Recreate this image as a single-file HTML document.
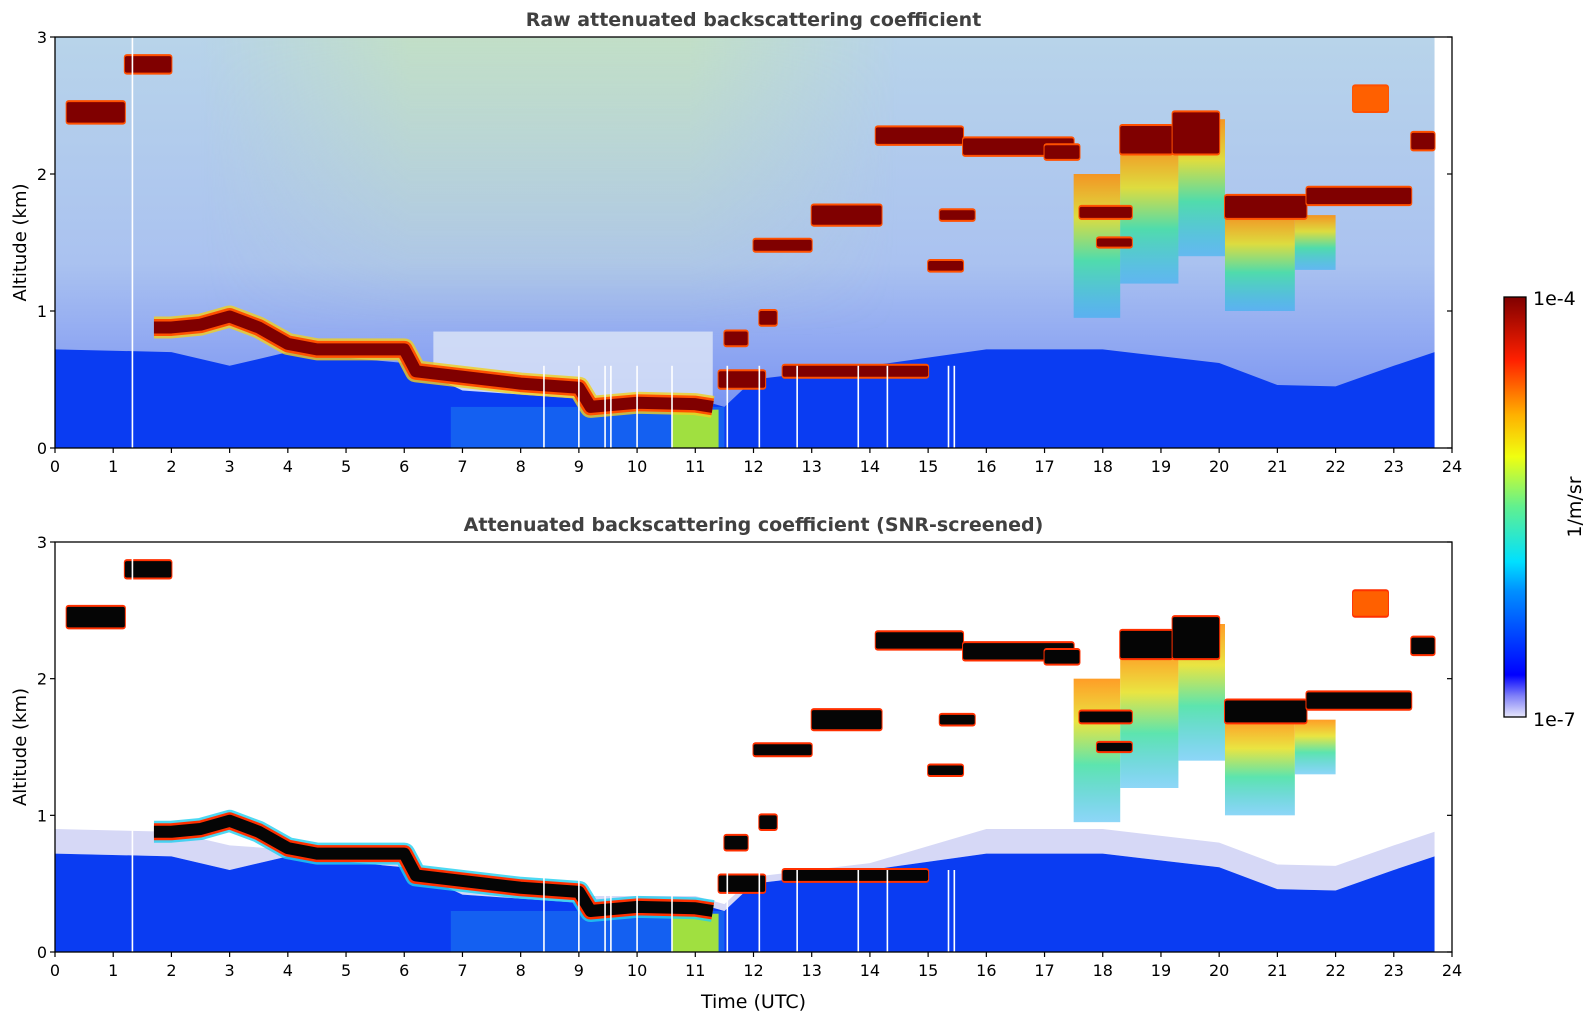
<!DOCTYPE html>
<html><head><meta charset="utf-8">
<style>
body{margin:0;background:#fff;}
svg{display:block;font-family:"DejaVu Sans","Liberation Sans",sans-serif;}
</style></head>
<body>
<svg id="fig" width="1595" height="1020" viewBox="0 0 1595 1020" xmlns="http://www.w3.org/2000/svg">
<defs>
<linearGradient id="skyTop" x1="0" y1="0" x2="0" y2="1">
<stop offset="0" stop-color="#b8d4ea"/><stop offset="0.55" stop-color="#aac2f0"/><stop offset="0.75" stop-color="#90a8f2"/><stop offset="1" stop-color="#6c88f2"/>
</linearGradient>
<linearGradient id="greenH" x1="0" y1="0" x2="1" y2="0">
<stop offset="0" stop-color="#c8e6b0" stop-opacity="0"/><stop offset="0.3" stop-color="#c8e6b0" stop-opacity="0.6"/><stop offset="0.7" stop-color="#c8e6b0" stop-opacity="0.6"/><stop offset="1" stop-color="#c8e6b0" stop-opacity="0"/>
</linearGradient>
<linearGradient id="fadeV" x1="0" y1="0" x2="0" y2="1">
<stop offset="0" stop-color="#fff"/><stop offset="0.5" stop-color="#fff" stop-opacity="0.5"/><stop offset="1" stop-color="#fff" stop-opacity="0"/>
</linearGradient>
<mask id="greenMask"><rect x="0" y="37" width="1595" height="300" fill="url(#fadeV)"/></mask>
<linearGradient id="precip" x1="0" y1="0" x2="0" y2="1">
<stop offset="0" stop-color="#ff8c00"/><stop offset="0.3" stop-color="#e6e020"/><stop offset="0.6" stop-color="#40e0a0"/><stop offset="1" stop-color="#20b0f0" stop-opacity="0.6"/>
</linearGradient>
<linearGradient id="cbar" x1="0" y1="1" x2="0" y2="0">
<stop offset="0" stop-color="#e6e6fa"/><stop offset="0.05" stop-color="#8080f8"/><stop offset="0.1" stop-color="#0000ff"/><stop offset="0.3" stop-color="#0090ff"/><stop offset="0.37" stop-color="#00e0ff"/><stop offset="0.5" stop-color="#60f090"/><stop offset="0.62" stop-color="#f0ff10"/><stop offset="0.72" stop-color="#ffb000"/><stop offset="0.85" stop-color="#ff2000"/><stop offset="1" stop-color="#800000"/>
</linearGradient>
<clipPath id="clipTop"><rect x="55" y="37" width="1397" height="411"/></clipPath>
<clipPath id="clipBot"><rect x="55" y="542" width="1397" height="410"/></clipPath>
</defs>
<g id="top" clip-path="url(#clipTop)"></g>
<g id="bot" clip-path="url(#clipBot)"></g>
<g id="axes"></g>
</svg>
<script>
// ---- data (hours UTC, km) ----
const blHours = [0, 2, 3, 4, 6, 7, 9, 11, 11.5, 12, 14, 16, 18, 20, 21, 22, 23, 23.7];
const blTops  = [0.72,0.7,0.6,0.7,0.62,0.42,0.36,0.36,0.3,0.5,0.6,0.72,0.72,0.62,0.46,0.45,0.6,0.7];
const mainHours = [1.7,2.0,2.5,3.0,3.5,4.0,4.5,5.0,6.0,6.2,7.0,8.0,9.0,9.2,10.0,11.0,11.3];
const mainAlt   = [0.88,0.88,0.9,0.96,0.88,0.76,0.72,0.72,0.72,0.56,0.52,0.47,0.44,0.3,0.33,0.32,0.3];
const cloudStart = [0.2,1.2,14.1,15.6,17.0,18.3,19.2,20.1,21.5,23.3,13.0,12.0,15.2,15.0,17.6,17.9,12.5,11.4,22.3,12.1,11.5];
const cloudEnd   = [1.2,2.0,15.6,17.5,17.6,19.2,20.0,21.5,23.3,23.7,14.2,13.0,15.8,15.6,18.5,18.5,15.0,12.2,22.9,12.4,11.9];
const cloudAlt   = [2.45,2.8,2.28,2.2,2.16,2.25,2.3,1.76,1.84,2.24,1.7,1.48,1.7,1.33,1.72,1.5,0.56,0.5,2.55,0.95,0.8];
const cloudThick = [0.15,0.12,0.12,0.12,0.1,0.2,0.3,0.16,0.12,0.12,0.14,0.08,0.07,0.07,0.08,0.06,0.08,0.12,0.18,0.1,0.1];
const streakStart = [17.5,18.3,19.3,20.1,21.3];
const streakEnd   = [18.3,19.3,20.1,21.3,22.0];
const streakTop   = [2.0,2.2,2.4,1.7,1.7];
const streakBot   = [0.95,1.2,1.4,1.0,1.3];
const gapHours = [1.33,8.4,9.0,9.45,9.55,10.0,10.6,11.55,12.1,12.75,13.8,14.3,15.35,15.45];
const xTicks = [0,1,2,3,4,5,6,7,8,9,10,11,12,13,14,15,16,17,18,19,20,21,22,23,24];
const yTicks = [0,1,2,3];

const NS="http://www.w3.org/2000/svg";
const L=55,R=1452;
const panels=[{top:37,bot:448,g:'top',name:'raw'},{top:542,bot:952,g:'bot',name:'screened'}];
const sx=h=>L+(R-L)*h/24;
function syF(p){return k=>p.bot-(p.bot-p.top)*k/3;}
function el(tag,attrs,parent){const e=document.createElementNS(NS,tag);for(const k in attrs)e.setAttribute(k,attrs[k]);parent.appendChild(e);return e;}

panels.forEach((p,pi)=>{
  const g=document.getElementById(p.g), sy=syF(p);
  const raw=pi===0;
  const bg=el('rect',{x:L,y:p.top,width:R-L,height:p.bot-p.top,fill:raw?'url(#skyTop)':'#ffffff'},g);
  
  
  if(raw){
    const gz=el('rect',{x:sx(2.5),y:sy(3),width:sx(14.5)-sx(2.5),height:sy(0.8)-sy(3),fill:'url(#greenH)',mask:'url(#greenMask)'},g);
    
    
    const wz=el('rect',{x:sx(6.5),y:sy(0.85),width:sx(11.3)-sx(6.5),height:sy(0.35)-sy(0.85),fill:'#dde6f6',opacity:0.8},g);
    
    
    const rz=el('rect',{x:sx(23.7),y:p.top,width:R-sx(23.7),height:p.bot-p.top,fill:'#ffffff'},g);
    
    
  } else {
    let d='M'+sx(blHours[0])+','+sy(blTops[0]+0.12);
    blHours.forEach((h,i)=>{d+=' L'+sx(h)+','+sy(blTops[i]+ (h>15.5||h<4?0.18:0.05));});
    for(let i=blHours.length-1;i>=0;i--)d+=' L'+sx(blHours[i])+','+sy(blTops[i]);
    const lb=el('path',{d:d+'Z',fill:'#d6d8f6'},g);
    
    
  }
  let d='M'+sx(0)+','+sy(0);
  blHours.forEach((h,i)=>{d+=' L'+sx(h)+','+sy(blTops[i]);});
  d+=' L'+sx(blHours[blHours.length-1])+','+sy(0)+'Z';
  const bl=el('path',{d:d,fill:'#0a3cf2'},g);
  
  
  const bl2=el('rect',{x:sx(6.8),y:sy(0.3),width:sx(11.5)-sx(6.8),height:sy(0)-sy(0.3),fill:'#1a78f0',opacity:0.6},g);
  
  
  const yp=el('rect',{x:sx(10.6),y:sy(0.28),width:sx(11.4)-sx(10.6),height:sy(0)-sy(0.28),fill:'#a0e040'},g);
  
  
  streakStart.forEach((s,i)=>{
    const r=el('rect',{x:sx(s),y:sy(streakTop[i]),width:sx(streakEnd[i])-sx(s),height:sy(streakBot[i])-sy(streakTop[i]),fill:'url(#precip)',opacity:0.85},g);
    
    
  });
  const core=raw?'#800000':'#050505', edge=raw?'#ff5000':'#ff3000';
  const pts=mainHours.map((h,i)=>sx(h)+','+sy(mainAlt[i])).join(' ');
  const m1=el('polyline',{points:pts,fill:'none',stroke:raw?'#f0d020':'#20d0f0','stroke-width':22,'stroke-linejoin':'round',opacity:0.8},g);
  
  
  const m2=el('polyline',{points:pts,fill:'none',stroke:edge,'stroke-width':17,'stroke-linejoin':'round'},g);
  
  
  const m3=el('polyline',{points:pts,fill:'none',stroke:core,'stroke-width':12,'stroke-linejoin':'round'},g);
  
  
  cloudStart.forEach((s,i)=>{
    const x=sx(s),w=sx(cloudEnd[i])-x,y=sy(cloudAlt[i]+cloudThick[i]/2),hh=sy(cloudAlt[i]-cloudThick[i]/2)-y;
    const e=el('rect',{x:x-1,y:y-2,width:w+2,height:hh+4,fill:edge,rx:3},g);
    
    
    const c=el('rect',{x:x,y:y,width:w,height:hh,fill:(i===18)?'#ff6000':core,rx:2},g);
    
    
  });
  gapHours.forEach(h=>{
    const ln=el('line',{x1:sx(h),x2:sx(h),y1:sy(0),y2:sy(h===1.33?3:0.6),stroke:'#ffffff','stroke-width':1.6},g);
    
    
  });
});

const ax=document.getElementById('axes');
const titles=['Raw attenuated backscattering coefficient','Attenuated backscattering coefficient (SNR-screened)'];
panels.forEach((p,pi)=>{
  const sy=syF(p);
  const fr=el('rect',{x:L,y:p.top,width:R-L,height:p.bot-p.top,fill:'none',stroke:'#000','stroke-width':1.3},ax);
  
  
  xTicks.forEach(t=>{
    const tk=el('line',{x1:sx(t),x2:sx(t),y1:p.bot,y2:p.bot+5,stroke:'#000','stroke-width':1.2},ax);
    
    
    const tx=el('text',{x:sx(t),y:p.bot+24,'font-size':16,'text-anchor':'middle',fill:'#000'},ax);
    tx.textContent=t;
    
    
  });
  yTicks.forEach(t=>{
    const tk=el('line',{x1:L-5,x2:L,y1:sy(t),y2:sy(t),stroke:'#000','stroke-width':1.2},ax);
    
    
    const tk2=el('line',{x1:R-5,x2:R,y1:sy(t),y2:sy(t),stroke:'#000','stroke-width':1.2},ax);
    
    
    const tx=el('text',{x:L-8,y:sy(t)+6,'font-size':16,'text-anchor':'end',fill:'#000'},ax);
    tx.textContent=t;
    
    
  });
  const yl=el('text',{x:0,y:0,'font-size':18,'text-anchor':'middle',fill:'#000',transform:'translate(26,'+((p.top+p.bot)/2)+') rotate(-90)'},ax);
  yl.textContent='Altitude (km)';
  
  
  const tt=el('text',{x:(L+R)/2,y:p.top-11,'font-size':19,'font-weight':'bold','text-anchor':'middle',fill:'#404040'},ax);
  tt.textContent=titles[pi];
  
  
});
const xl=el('text',{x:(L+R)/2,y:1008,'font-size':19,'text-anchor':'middle',fill:'#000'},ax);
xl.textContent='Time (UTC)';


const cb=el('rect',{x:1504,y:297,width:22,height:420,fill:'url(#cbar)',stroke:'#000','stroke-width':1.3},ax);


const c1=el('text',{x:1533,y:305,'font-size':19,fill:'#000'},ax);c1.textContent='1e-4';


const c2=el('text',{x:1533,y:726,'font-size':19,fill:'#000'},ax);c2.textContent='1e-7';


const c3=el('text',{x:0,y:0,'font-size':19,'text-anchor':'middle',fill:'#000',transform:'translate(1581,507) rotate(-90)'},ax);c3.textContent='1/m/sr';


</script>
</body></html>
